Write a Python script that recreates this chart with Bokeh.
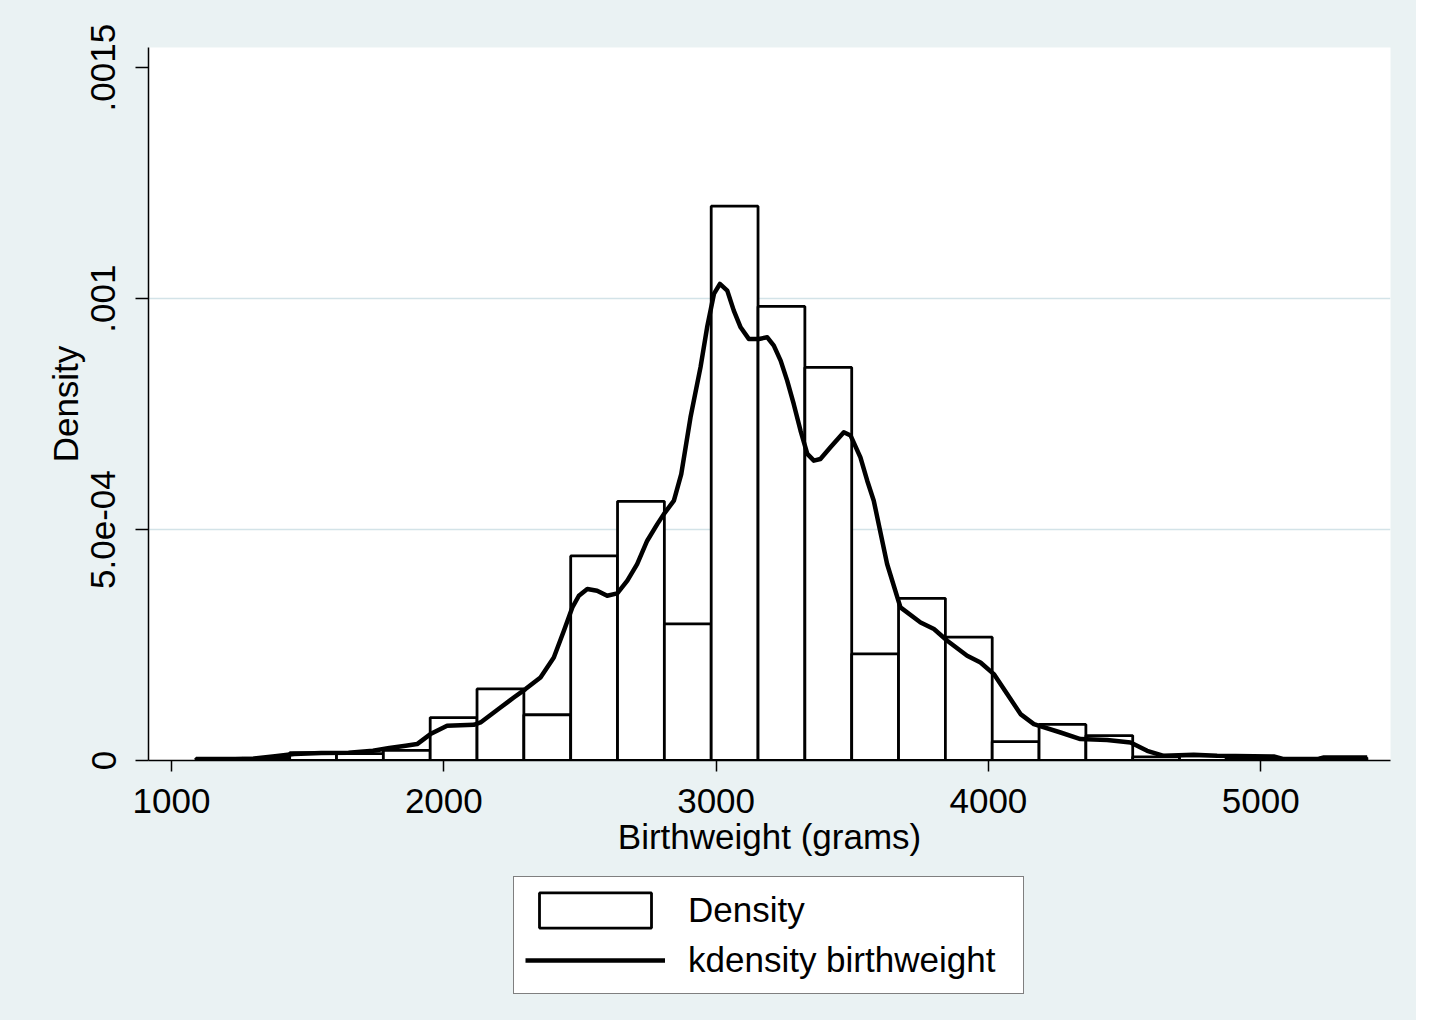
import numpy as np
from bokeh.plotting import figure
from bokeh.layouts import column
from bokeh.models import ColumnDataSource, FixedTicker, Range1d, Legend, LegendItem
from bokeh.embed import file_html
from bokeh.resources import INLINE

# ---------------- data ----------------
bin_start = 1090          # grams, left edge of first histogram bin
bin_width = 172           # grams
bar_density = [0.000005, 0.000005, 0.000017, 0.000015, 0.000022,
               0.000093, 0.000155, 0.000099, 0.000443, 0.000561,
               0.000296, 0.001200, 0.000983, 0.000851, 0.000231,
               0.000351, 0.000267, 0.000041, 0.000078, 0.000054,
               0.000008, 0.000010, 0.000005, 0.000003, 0.000006]

kd_x = [1095, 1200, 1300, 1380, 1450, 1550, 1650, 1740, 1800, 1860, 1902,
        1951, 2012, 2110, 2135,
        2208, 2257, 2300, 2355, 2404, 2441, 2472, 2496, 2527, 2563, 2600,
        2637, 2674, 2710, 2747, 2784, 2808, 2845, 2872,
        2906, 2943, 2967, 2992, 3014, 3041, 3065, 3090, 3120, 3157, 3188,
        3212, 3237, 3261, 3285, 3310, 3335, 3359, 3383, 3420, 3469, 3494,
        3530, 3555, 3579,
        3628, 3677, 3751, 3800, 3849, 3922, 3971, 4020, 4069, 4118, 4167,
        4265, 4338, 4436, 4522, 4583, 4644, 4754, 4840, 5048, 5085, 5208,
        5232, 5391]
kd_y = [0.000001, 0.000002, 0.000004, 0.000009, 0.000014, 0.000016, 0.000017,
        0.000021, 0.000027, 0.000032, 0.0000355, 0.0000572, 0.0000752,
        0.0000773, 0.0000823,
        0.0001148, 0.0001364, 0.0001546, 0.0001798, 0.0002231, 0.0002808,
        0.0003313, 0.0003567, 0.0003712, 0.0003676, 0.0003567, 0.0003617,
        0.0003892, 0.0004253, 0.0004758, 0.0005117, 0.0005334, 0.0005625,
        0.0006200,
        0.0007430, 0.0008521, 0.0009379, 0.0010101, 0.0010317, 0.0010173,
        0.0009740, 0.0009379, 0.0009127, 0.0009127, 0.0009162, 0.0008982,
        0.0008657, 0.0008224, 0.0007719, 0.0007143, 0.0006638, 0.0006491,
        0.0006528, 0.0006780, 0.0007105, 0.0007034, 0.0006564, 0.0006058,
        0.0005625,
        0.0004254, 0.0003314, 0.0002989, 0.0002846, 0.0002593, 0.0002268,
        0.0002123, 0.0001871, 0.0001438, 0.0001005, 0.0000788, 0.0000606,
        0.0000463, 0.0000442, 0.0000390, 0.0000210, 0.0000102, 0.0000123,
        0.0000102, 0.0000087, 0.0000030, 0.0000030, 0.0000065, 0.0000065]

x_ticks = [1000, 2000, 3000, 4000, 5000]
y_ticks = [0.0, 0.0005, 0.001, 0.0015]
y_tick_labels = ["0", "5.0e-04", ".001", ".0015"]
grid_ticks = [0.0005, 0.001]
legend_labels = ["Density", "kdensity birthweight"]
x_label = "Birthweight (grams)"
y_label = "Density"

# ---------------- styling ----------------
BG = "#EAF2F3"
GRID = "#D3E3E8"
FONT = "Liberation Sans"
FS = "35px"
W = 1416
H1 = 875
H2 = 145

n = len(bar_density)
left = bin_start + bin_width * np.arange(n)
right = left + bin_width
bars = ColumnDataSource(dict(left=left, right=right, top=bar_density,
                             bottom=np.zeros(n)))
kd = ColumnDataSource(dict(x=kd_x, y=kd_y))

p = figure(width=W, height=H1, output_backend="svg", toolbar_location=None,
           tools="", x_range=Range1d(915.5, 5476.7), y_range=Range1d(0, 0.0015436),
           min_border_left=148, min_border_right=26, min_border_top=47,
           min_border_bottom=115, background_fill_color="white",
           border_fill_color=BG, outline_line_color=None)

bar_style = dict(fill_color="white", line_color="black", line_width=2.8)
line_style = dict(line_color="black", line_width=4.5, line_join="round")

p.quad(left="left", right="right", top="top", bottom="bottom", source=bars,
       **bar_style)
p.line(x="x", y="y", source=kd, **line_style)

# axes
xa = p.xaxis[0]
xa.ticker = FixedTicker(ticks=x_ticks)
xa.axis_label = x_label
ya = p.yaxis[0]
ya.ticker = FixedTicker(ticks=y_ticks)
ya.major_label_overrides = {t: s for t, s in zip(y_ticks, y_tick_labels)}
ya.major_label_orientation = "vertical"
ya.axis_label = y_label

for ax in (xa, ya):
    ax.axis_line_color = "black"
    ax.axis_line_width = 1.5
    ax.major_tick_line_color = "black"
    ax.major_tick_line_width = 1.5
    ax.major_tick_in = 0
    ax.minor_tick_line_color = None
    ax.major_label_text_font = FONT
    ax.major_label_text_font_size = FS
    ax.major_label_text_color = "black"
    ax.axis_label_text_font = FONT
    ax.axis_label_text_font_size = FS
    ax.axis_label_text_font_style = "normal"
    ax.axis_label_text_color = "black"

xa.major_tick_out = 11
xa.major_label_standoff = 17
xa.axis_label_standoff = 1
ya.major_tick_out = 13
ya.major_label_standoff = 20
ya.axis_label_standoff = 4

p.xgrid.visible = False
p.ygrid.ticker = FixedTicker(ticks=grid_ticks)
p.ygrid.grid_line_color = GRID
p.ygrid.grid_line_width = 1.5

# ---------------- legend strip (below the plot) ----------------
# Same data sources, but this strip's ranges keep the marks out of view,
# so only the legend (with its glyph swatches) is visible.
lg = figure(width=W, height=H2, output_backend="svg", toolbar_location=None,
            tools="", x_range=Range1d(0, 1), y_range=Range1d(0, 1),
            x_axis_type=None, y_axis_type=None, min_border=0,
            background_fill_color=BG, background_fill_alpha=0.0,
            border_fill_color=BG, outline_line_color=None)
lg.xgrid.visible = False
lg.ygrid.visible = False
rq = lg.quad(left="left", right="right", top="top", bottom="bottom",
             source=bars, **bar_style)
rl = lg.line(x="x", y="y", source=kd, **line_style)

legend = Legend(items=[LegendItem(label=legend_labels[0], renderers=[rq]),
                       LegendItem(label=legend_labels[1], renderers=[rl])],
                location=(365, 26), orientation="vertical",
                glyph_width=140, glyph_height=44, label_standoff=23,
                label_width=324, label_height=30, spacing=6, padding=11,
                label_text_font=FONT, label_text_font_size=FS,
                label_text_color="black", border_line_color="black",
                border_line_width=1.5, background_fill_color="white",
                background_fill_alpha=1.0)
lg.add_layout(legend)

layout = column(p, lg, spacing=0, styles={"background-color": BG})
open("out.html", "w").write(file_html(layout, INLINE))
